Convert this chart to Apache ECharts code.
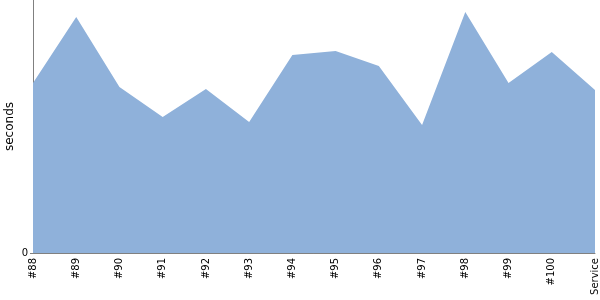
<!DOCTYPE html>
<html><head><meta charset="utf-8">
<script src="https://cdn.jsdelivr.net/npm/echarts@6/dist/echarts.min.js"></script>
<style>html,body{margin:0;padding:0;background:#fff}#c{width:600px;height:300px}</style>
</head><body><div id="c"></div>
<script>
const categories = ['#88','#89','#90','#91','#92','#93','#94','#95','#96','#97','#98','#99','#100','Service'];
const seconds = [672, 933, 656, 538, 648, 518, 783, 798, 739, 506, 953, 672, 794, 644];
const yMin = 0, yMax = 1000;
const yTickValues = [0];

const chart = echarts.init(document.getElementById('c'), null, {renderer:'canvas'});
chart.setOption({
  animation: false,
  grid: {left: 33, right: 5, top: 0, bottom: 47, containLabel: false, outerBoundsMode: 'none'},
  xAxis: {
    type: 'category', data: categories, boundaryGap: false,
    axisLine: {lineStyle: {color: '#808080', width: 1}},
    axisTick: {show: false},
    axisLabel: {rotate: 90, interval: 0, color: '#000', fontFamily: 'DejaVu Sans', fontSize: 10, margin: 5}
  },
  yAxis: {
    type: 'value', min: yMin, max: yMax, interval: 1000,
    name: 'seconds', nameLocation: 'middle', nameGap: 17, nameMoveOverlap: false,
    nameTextStyle: {color: '#000', fontFamily: 'DejaVu Sans', fontSize: 12},
    axisLine: {show: true, lineStyle: {color: '#808080', width: 1}},
    axisTick: {show: true, length: 3, customValues: yTickValues, lineStyle: {color: '#808080'}},
    splitLine: {show: false},
    axisLabel: {color: '#000', fontFamily: 'DejaVu Sans', fontSize: 10, margin: 5, customValues: yTickValues}
  },
  series: [{
    type: 'line', data: seconds, symbol: 'none',
    lineStyle: {width: 0, color: '#8FB1DA'},
    areaStyle: {color: '#8FB1DA', opacity: 1},
    z: 1
  }]
});
</script></body></html>
